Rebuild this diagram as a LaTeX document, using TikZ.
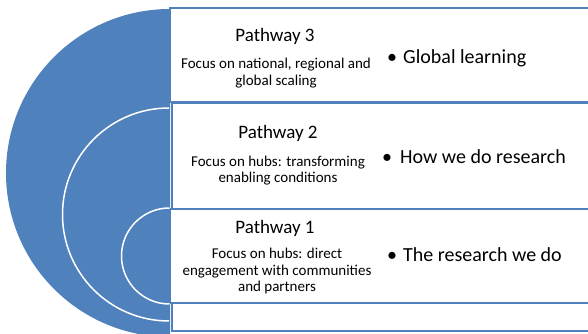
\documentclass[tikz,border=0pt]{standalone}
\usepackage{fontspec}
\setmainfont{Carlito}
\definecolor{office}{HTML}{4F81BD}
\begin{document}
\begin{tikzpicture}[x=1pt,y=1pt,
  boxline/.style={draw=office,line width=1.3pt,fill=white},
  arcline/.style={draw=white,line width=1.5pt},
  title/.style={inner sep=0pt,anchor=base,font=\fontsize{19}{22}\selectfont},
  focus/.style={inner sep=0pt,anchor=base,align=center,font=\fontsize{15}{16.5}\selectfont},
  dot/.style={inner sep=0pt,anchor=base,font=\fontsize{20}{24}\selectfont},
  item/.style={inner sep=0pt,anchor=base west,font=\fontsize{20}{24}\selectfont}]
\useasboundingbox (0,0) rectangle (588,334);
\clip (0,0) rectangle (588,334);
% half disc
\fill[office] (170,325) arc[start angle=90,end angle=270,radius=164] -- cycle;
\draw[arcline] (169,226) arc[start angle=90,end angle=270,radius=106.5];
\draw[arcline] (169.5,126) arc[start angle=90,end angle=270,radius=48];
% boxes
\draw[boxline] (600,326) -- (170,326) -- (170,232) -- (600,232);
\draw[boxline] (600,231) -- (172,231) -- (172,125) -- (600,125);
\draw[boxline] (600,125) -- (170.5,125) -- (170.5,31) -- (600,31);
\draw[boxline] (600,31) -- (172,31) -- (172,3) -- (600,3);
% texts
\node[title] (p3) at (275,292) {Pathway 3};
\node[focus] (f3) at (276,248.5) {Focus on national, regional and\\global scaling};
\node[dot] (d3) at (392,270.7) {•};
\node[item] (i3) at (403,270.7) {Global learning};
\node[title] (p2) at (278,195.5) {Pathway 2};
\node[focus] (f2) at (278,151) {Focus on hubs: transforming\\enabling conditions};
\node[dot] (d2) at (387,170.7) {•};
\node[item] (i2) at (400,170.7) {How we do research};
\node[title] (p1) at (275,100.7) {Pathway 1};
\node[focus] (f1) at (277,42) {Focus on hubs: direct\\engagement with communities\\and partners};
\node[dot] (d1) at (392,72.3) {•};
\node[item] (i1) at (403,72.3) {The research we do};
\end{tikzpicture}
\end{document}
